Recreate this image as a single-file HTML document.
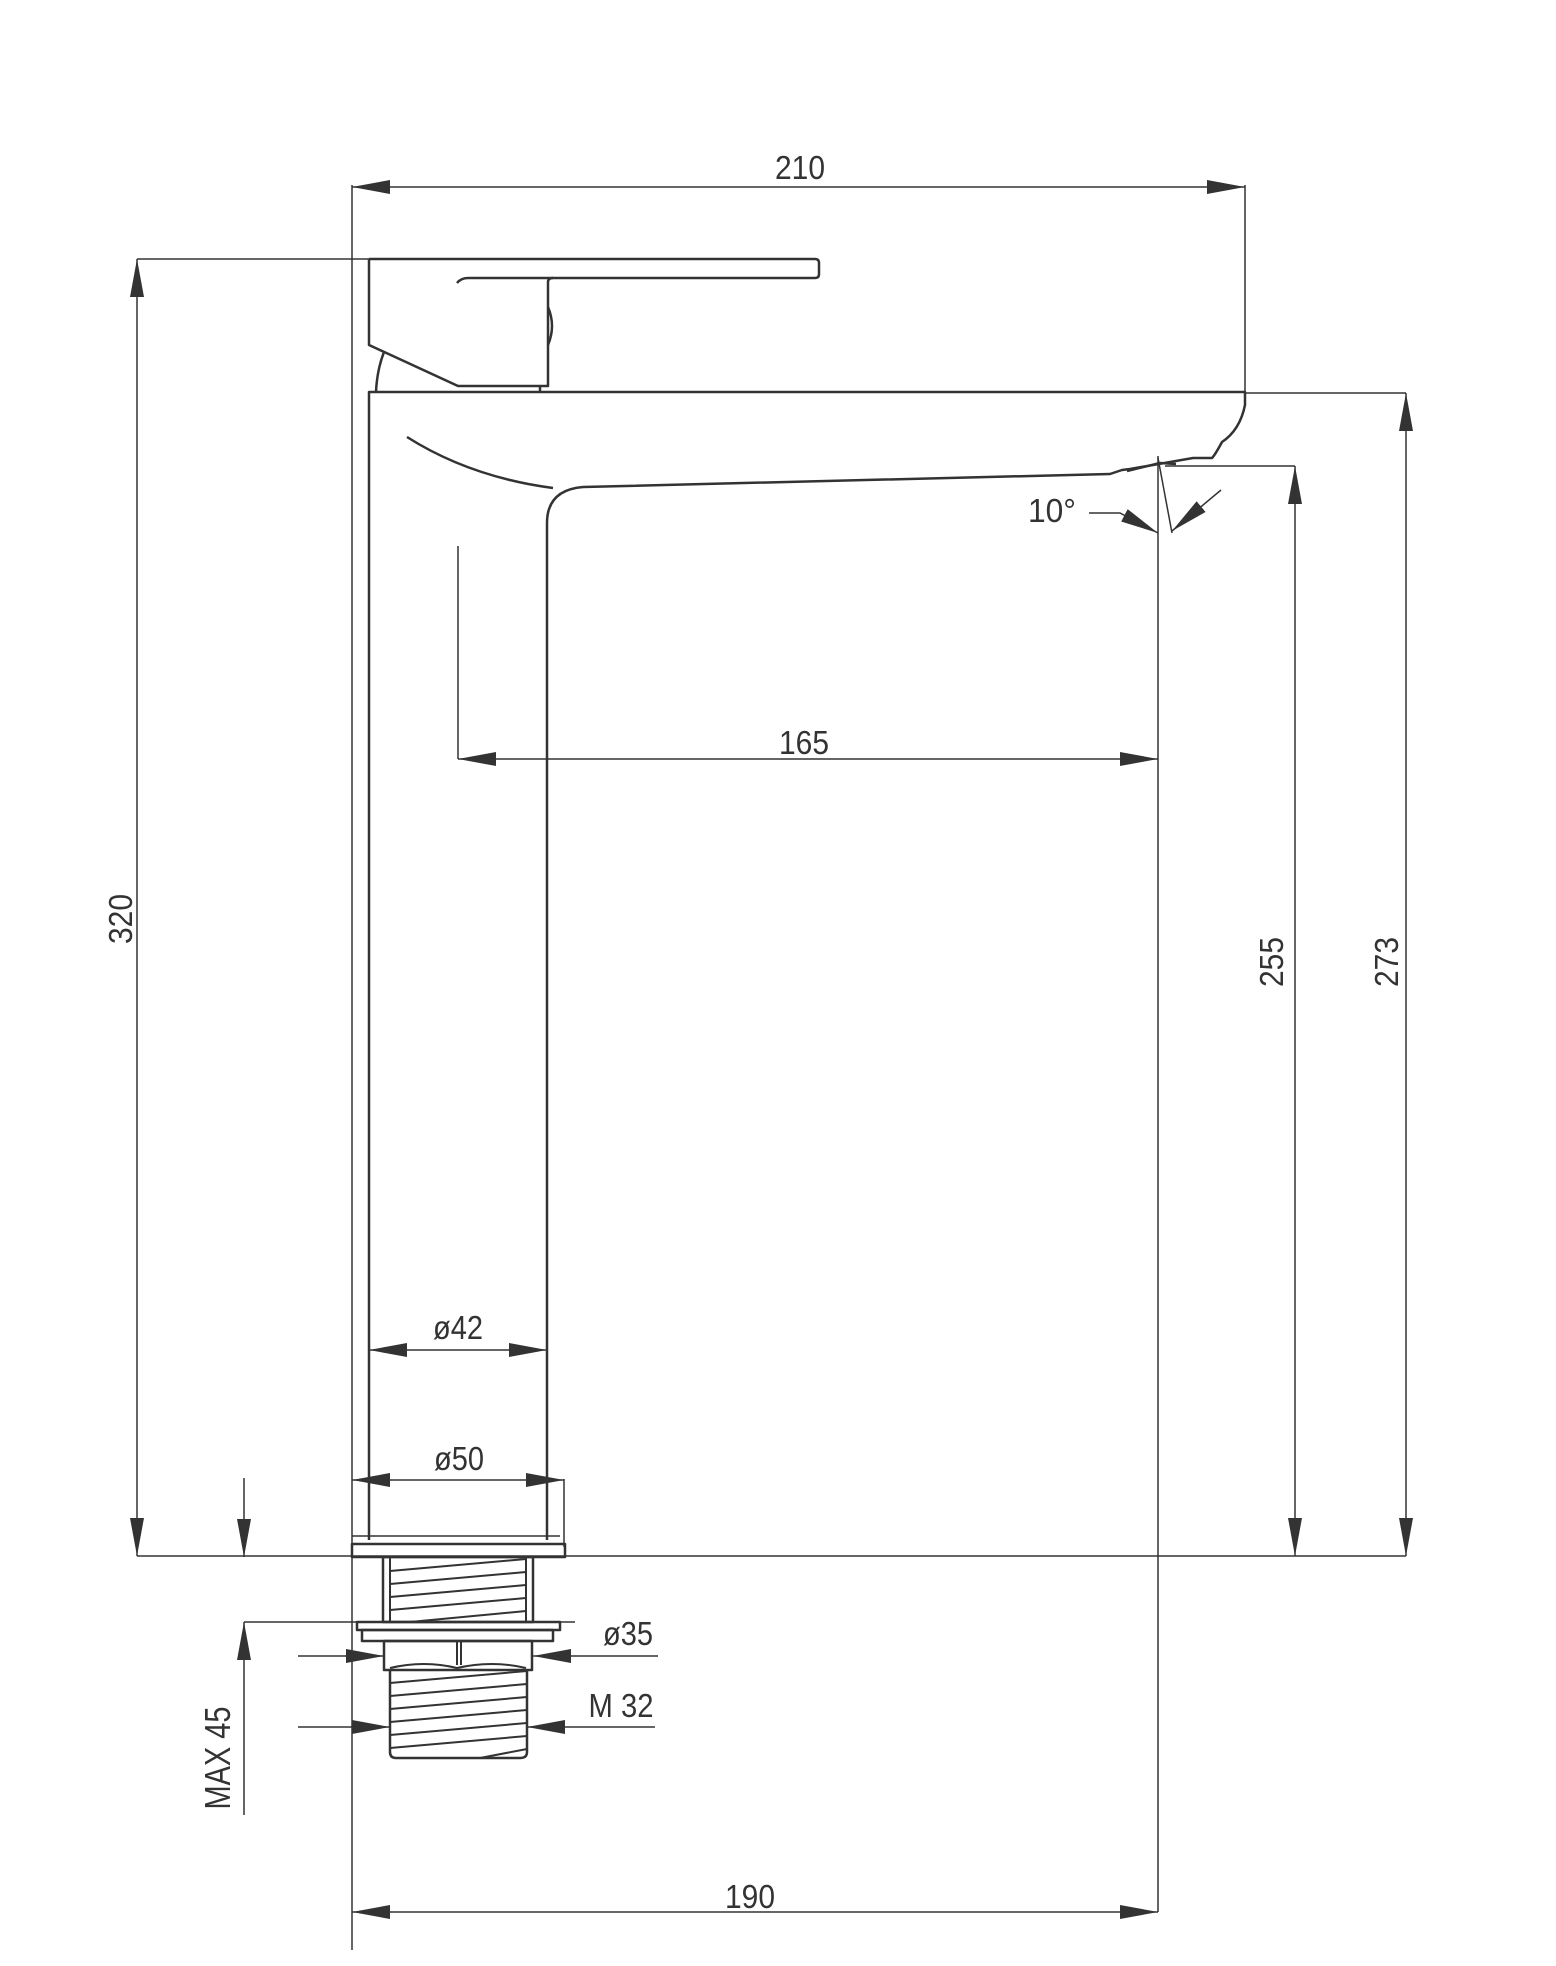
<!DOCTYPE html>
<html><head><meta charset="utf-8"><style>
html,body{margin:0;padding:0;background:#fff}
svg{display:block}
text{font-family:"Liberation Sans",sans-serif;fill:#333;font-size:33px}
</style></head><body>
<svg width="1556" height="1966" viewBox="0 0 1556 1966" xmlns="http://www.w3.org/2000/svg">
<defs>
<marker id="a" markerWidth="38" markerHeight="14" refX="38" refY="7" orient="auto-start-reverse" markerUnits="userSpaceOnUse"><path d="M0,0 L38,7 L0,14z" fill="#333"/></marker>
</defs>
<g stroke="#333" stroke-width="1.5" fill="none">
<line x1="352" y1="185" x2="352" y2="1950"/>
<line x1="1245" y1="185" x2="1245" y2="393"/>
<line x1="137" y1="259" x2="369" y2="259"/>
<line x1="1245" y1="393" x2="1406" y2="393"/>
<line x1="1165" y1="466" x2="1295" y2="466"/>
<line x1="137" y1="1556" x2="1406" y2="1556"/>
<line x1="458" y1="546" x2="458" y2="759"/>
<line x1="1158" y1="456" x2="1158" y2="1912"/>
<line x1="1158" y1="458" x2="1172" y2="533"/>
<line x1="564" y1="1479" x2="564" y2="1547"/>
<line x1="244" y1="1622" x2="575" y2="1622"/>
<line x1="352" y1="187" x2="1245" y2="187" marker-start="url(#a)" marker-end="url(#a)"/>
<line x1="137" y1="259" x2="137" y2="1556" marker-start="url(#a)" marker-end="url(#a)"/>
<line x1="1406" y1="393" x2="1406" y2="1556" marker-start="url(#a)" marker-end="url(#a)"/>
<line x1="1295" y1="466" x2="1295" y2="1556" marker-start="url(#a)" marker-end="url(#a)"/>
<line x1="458" y1="759" x2="1158" y2="759" marker-start="url(#a)" marker-end="url(#a)"/>
<line x1="352" y1="1912" x2="1158" y2="1912" marker-start="url(#a)" marker-end="url(#a)"/>
<line x1="369" y1="1350" x2="547" y2="1350" marker-start="url(#a)" marker-end="url(#a)"/>
<line x1="352" y1="1480" x2="564" y2="1480" marker-start="url(#a)" marker-end="url(#a)"/>
<line x1="244" y1="1478" x2="244" y2="1557" marker-end="url(#a)"/>
<line x1="244" y1="1815" x2="244" y2="1622" marker-end="url(#a)"/>
<line x1="298" y1="1656" x2="384" y2="1656" marker-end="url(#a)"/>
<line x1="658" y1="1656" x2="533" y2="1656" marker-end="url(#a)"/>
<line x1="298" y1="1727" x2="390" y2="1727" marker-end="url(#a)"/>
<line x1="655" y1="1727" x2="527" y2="1727" marker-end="url(#a)"/>
<polyline points="1089,513 1120,513 1158,533" marker-end="url(#a)"/>
<line x1="1221" y1="490" x2="1172" y2="531" marker-end="url(#a)"/>
</g>
<g stroke="#333" stroke-width="2.5" fill="none" stroke-linejoin="round">
<path d="M369,259 L815,259 Q819,259 819,263 L819,274 Q819,278 815,278 L468,278 Q461,278 457,283"/>
<path d="M369,259 L369,345 L458,386 L548,386 L548,282 Q548,278 553,278"/>
<path d="M548,307 Q556,326 548,345"/>
<path d="M376,392 Q377,370 384,352"/>
<line x1="540" y1="386" x2="540" y2="392"/>
<path d="M369,1540 L369,392 L1245,392 L1245,405 Q1240,430 1222,442 Q1215,455 1212,458 L1193,458 L1130,469 L1122,470 L1110,474 L583,487 Q547,490 547,523 L547,1540"/>
<path d="M1127,471 L1160,463 L1176,464"/>
<path d="M407,437 Q470,477 553,488"/>
<line x1="352" y1="1536" x2="560" y2="1536" stroke-width="1.5"/>
<rect x="352" y="1544" width="213" height="13"/>
<rect x="383" y="1557" width="150" height="65"/>
<line x1="390" y1="1557" x2="390" y2="1622" stroke-width="2"/>
<line x1="526" y1="1557" x2="526" y2="1622" stroke-width="2"/>
<rect x="357" y="1622" width="203" height="8"/>
<rect x="362" y="1630" width="191" height="11"/>
<rect x="384" y="1641" width="148" height="29"/>
<line x1="457" y1="1641" x2="457" y2="1665" stroke-width="2"/>
<line x1="461" y1="1641" x2="461" y2="1665" stroke-width="2"/>
<path d="M390,1668 Q424,1660 457,1668 Q492,1660 526,1668" stroke-width="2"/>
<path d="M390,1670 L390,1752 Q390,1758 396,1758 L520,1758 Q527,1758 527,1752 L527,1670"/>
</g>
<g stroke="#333" stroke-width="2" fill="none">
<line x1="390" y1="1571" x2="526" y2="1559"/>
<line x1="390" y1="1584" x2="526" y2="1572"/>
<line x1="390" y1="1597" x2="526" y2="1585"/>
<line x1="390" y1="1610" x2="526" y2="1598"/>
<line x1="410" y1="1622" x2="526" y2="1611"/>
<line x1="390" y1="1683" x2="527" y2="1671"/>
<line x1="390" y1="1696" x2="527" y2="1684"/>
<line x1="390" y1="1709" x2="527" y2="1697"/>
<line x1="390" y1="1722" x2="527" y2="1710"/>
<line x1="390" y1="1735" x2="527" y2="1723"/>
<line x1="390" y1="1748" x2="527" y2="1736"/>
<line x1="480" y1="1758" x2="527" y2="1749"/>
</g>
<g text-anchor="middle">
<text x="800" y="179" textLength="50" lengthAdjust="spacingAndGlyphs">210</text>
<text x="804" y="754" textLength="50" lengthAdjust="spacingAndGlyphs">165</text>
<text x="750" y="1908" textLength="50" lengthAdjust="spacingAndGlyphs">190</text>
<text x="458" y="1339" textLength="50" lengthAdjust="spacingAndGlyphs">ø42</text>
<text x="459" y="1470" textLength="50" lengthAdjust="spacingAndGlyphs">ø50</text>
<text x="628" y="1645" textLength="50" lengthAdjust="spacingAndGlyphs">ø35</text>
<text x="621" y="1717" textLength="65" lengthAdjust="spacingAndGlyphs">M 32</text>
<text x="1052" y="522" textLength="48" lengthAdjust="spacingAndGlyphs">10°</text>
<text transform="translate(132,919) rotate(-90)" textLength="50" lengthAdjust="spacingAndGlyphs">320</text>
<text transform="translate(1283,962) rotate(-90)" textLength="50" lengthAdjust="spacingAndGlyphs">255</text>
<text transform="translate(1398,962) rotate(-90)" textLength="50" lengthAdjust="spacingAndGlyphs">273</text>
<text transform="translate(230,1758) rotate(-90)" style="font-size:36px" textLength="103" lengthAdjust="spacingAndGlyphs">MAX 45</text>
</g>
</svg>
</body></html>
